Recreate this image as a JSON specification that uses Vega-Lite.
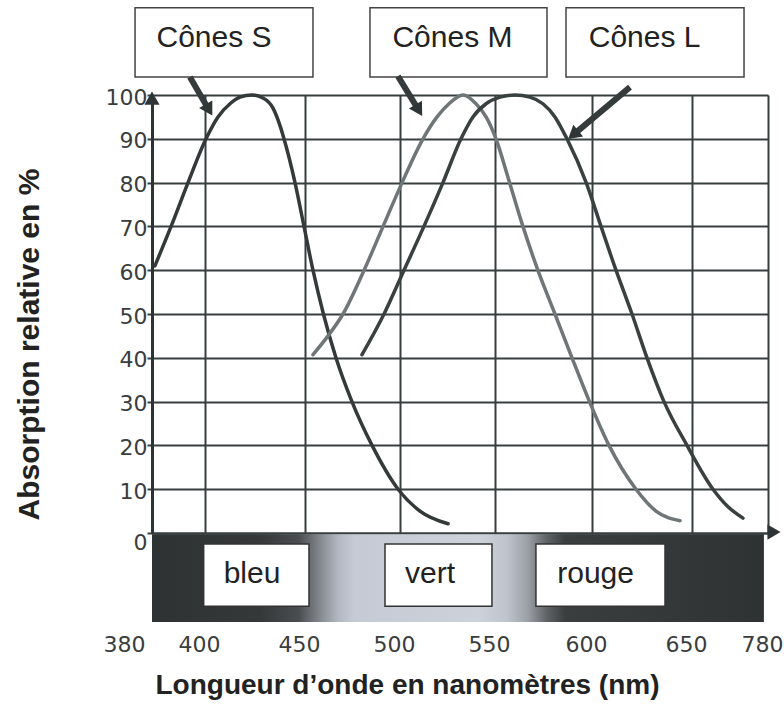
{
  "$schema": "https://vega.github.io/schema/vega-lite/v6.json",
  "width": 616,
  "height": 438,
  "autosize": {"type": "none"},
  "padding": {"left": 152, "top": 95, "right": 16, "bottom": 173},
  "background": "white",
  "config": {
    "view": {"stroke": null},
    "axis": {
      "labelFont": "DejaVu Sans",
      "labelFontSize": 22,
      "labelColor": "#3a3d3d",
      "labelOverlap": false,
      "labelFlush": false,
      "titleFont": "Liberation Sans",
      "titleFontWeight": "bold",
      "titleColor": "#222222",
      "gridColor": "#363e3e",
      "gridWidth": 2,
      "gridOpacity": 1
    }
  },
  "encoding": {
    "x": {
      "field": "nm",
      "type": "quantitative",
      "scale": {
        "domain": [380, 400, 450, 500, 550, 600, 650, 780],
        "range": [0, 53, 153, 248, 343, 440, 540, 616],
        "zero": false,
        "nice": false
      },
      "axis": {
        "values": [380, 400, 450, 500, 550, 600, 650, 780],
        "grid": true,
        "domain": true,
        "domainColor": "#363e3e",
        "domainWidth": 2,
        "ticks": false,
        "labelPadding": 101,
        "labelOffset": {"condition": {"test": "datum.value === 380", "value": -28}, "value": -6},
        "title": "Longueur d’onde en nanomètres (nm)",
        "titleFontSize": 28,
        "titleX": 3,
        "titleY": 160,
        "titleAlign": "left",
        "titleBaseline": "alphabetic"
      }
    },
    "y": {
      "field": "pct",
      "type": "quantitative",
      "scale": {"domain": [0, 100], "nice": false, "zero": false},
      "axis": {
        "values": [0, 10, 20, 30, 40, 50, 60, 70, 80, 90, 100],
        "grid": true,
        "domain": true,
        "domainColor": "#2c3333",
        "domainWidth": 3,
        "ticks": true,
        "tickSize": 5,
        "tickColor": "#363e3e",
        "tickWidth": 2,
        "labelPadding": 0,
        "labelOffset": {"condition": {"test": "datum.value === 0", "value": 9}, "value": 2},
        "title": "Absorption relative en %",
        "titleFontSize": 30,
        "titleAngle": -90,
        "titleX": -114,
        "titleY": 249,
        "titleAlign": "center",
        "titleBaseline": "alphabetic"
      }
    }
  },
  "layer": [
    {
      "data": {"values": [{"nm": 380, "nm2": 773, "pct": -0.3, "pct2": -20.3}]},
      "mark": {
        "type": "rect",
        "color": {
          "gradient": "linear",
          "x1": 0, "x2": 1, "y1": 0, "y2": 0,
          "stops": [
            {"offset": 0, "color": "#2e3232"},
            {"offset": 0.176, "color": "#353838"},
            {"offset": 0.24, "color": "#4a4d50"},
            {"offset": 0.278, "color": "#8a8e94"},
            {"offset": 0.305, "color": "#b4b8c2"},
            {"offset": 0.33, "color": "#c6cad4"},
            {"offset": 0.535, "color": "#cdd1da"},
            {"offset": 0.58, "color": "#bfc3cc"},
            {"offset": 0.615, "color": "#9a9ea4"},
            {"offset": 0.645, "color": "#5f6366"},
            {"offset": 0.675, "color": "#3a3e3e"},
            {"offset": 1, "color": "#2e3232"}
          ]
        }
      },
      "encoding": {"x2": {"field": "nm2"}, "y2": {"field": "pct2"}}
    },
    {
      "data": {"values": [
        {"label": "bleu", "nm": 399.5, "nm2": 452.1, "pct": -2.5, "pct2": -16.7},
        {"label": "vert", "nm": 492.1, "nm2": 548.4, "pct": -2.5, "pct2": -16.7},
        {"label": "rouge", "nm": 571.1, "nm2": 636.5, "pct": -2.5, "pct2": -16.7}
      ]},
      "mark": {"type": "rect", "fill": "white", "stroke": "#333333", "strokeWidth": 1.5},
      "encoding": {"x2": {"field": "nm2"}, "y2": {"field": "pct2"}}
    },
    {
      "data": {"values": [
        {"label": "bleu", "nm": 423.5, "pct": -11.4},
        {"label": "vert", "nm": 515.8, "pct": -11.4},
        {"label": "rouge", "nm": 601.8, "pct": -11.4}
      ]},
      "mark": {"type": "text", "font": "Liberation Sans", "fontSize": 30, "color": "#222222", "baseline": "alphabetic", "align": "center"},
      "encoding": {"text": {"field": "label"}}
    },
    {
      "data": {"values": [
        {"cone": "S", "nm": 381.1, "pct": 61},
        {"cone": "S", "nm": 387.2, "pct": 70},
        {"cone": "S", "nm": 393.6, "pct": 80},
        {"cone": "S", "nm": 400.5, "pct": 90},
        {"cone": "S", "nm": 406.5, "pct": 95},
        {"cone": "S", "nm": 412.5, "pct": 98},
        {"cone": "S", "nm": 417.5, "pct": 99.5},
        {"cone": "S", "nm": 423.5, "pct": 100},
        {"cone": "S", "nm": 429, "pct": 99.3},
        {"cone": "S", "nm": 434, "pct": 97},
        {"cone": "S", "nm": 437.5, "pct": 93},
        {"cone": "S", "nm": 439.5, "pct": 90},
        {"cone": "S", "nm": 445, "pct": 80},
        {"cone": "S", "nm": 449.5, "pct": 70},
        {"cone": "S", "nm": 454.2, "pct": 60},
        {"cone": "S", "nm": 459.7, "pct": 50},
        {"cone": "S", "nm": 466.3, "pct": 40},
        {"cone": "S", "nm": 474.7, "pct": 30},
        {"cone": "S", "nm": 485.3, "pct": 20},
        {"cone": "S", "nm": 499, "pct": 10},
        {"cone": "S", "nm": 510.5, "pct": 5},
        {"cone": "S", "nm": 525.3, "pct": 2.1},
        {"cone": "M", "nm": 454.2, "pct": 40.7},
        {"cone": "M", "nm": 462.1, "pct": 45},
        {"cone": "M", "nm": 470, "pct": 50},
        {"cone": "M", "nm": 481.1, "pct": 60},
        {"cone": "M", "nm": 491.1, "pct": 70},
        {"cone": "M", "nm": 501.1, "pct": 80},
        {"cone": "M", "nm": 512.1, "pct": 90},
        {"cone": "M", "nm": 519.5, "pct": 95},
        {"cone": "M", "nm": 525.8, "pct": 98},
        {"cone": "M", "nm": 533.2, "pct": 100},
        {"cone": "M", "nm": 540, "pct": 98},
        {"cone": "M", "nm": 545.3, "pct": 95},
        {"cone": "M", "nm": 550.5, "pct": 90},
        {"cone": "M", "nm": 557.5, "pct": 80},
        {"cone": "M", "nm": 564.4, "pct": 70},
        {"cone": "M", "nm": 572.1, "pct": 60},
        {"cone": "M", "nm": 580.9, "pct": 50},
        {"cone": "M", "nm": 589.7, "pct": 40},
        {"cone": "M", "nm": 598.7, "pct": 30},
        {"cone": "M", "nm": 608.5, "pct": 20},
        {"cone": "M", "nm": 622, "pct": 10},
        {"cone": "M", "nm": 632, "pct": 5},
        {"cone": "M", "nm": 644, "pct": 2.8},
        {"cone": "L", "nm": 480, "pct": 40.7},
        {"cone": "L", "nm": 491.6, "pct": 50},
        {"cone": "L", "nm": 502.1, "pct": 60},
        {"cone": "L", "nm": 512.6, "pct": 70},
        {"cone": "L", "nm": 522.6, "pct": 80},
        {"cone": "L", "nm": 532.1, "pct": 90},
        {"cone": "L", "nm": 538.4, "pct": 95},
        {"cone": "L", "nm": 545.3, "pct": 98},
        {"cone": "L", "nm": 552.6, "pct": 99.5},
        {"cone": "L", "nm": 560.3, "pct": 100},
        {"cone": "L", "nm": 568, "pct": 99.5},
        {"cone": "L", "nm": 574.7, "pct": 98},
        {"cone": "L", "nm": 580.9, "pct": 95},
        {"cone": "L", "nm": 587.1, "pct": 90},
        {"cone": "L", "nm": 597, "pct": 80},
        {"cone": "L", "nm": 604.5, "pct": 70},
        {"cone": "L", "nm": 612, "pct": 60},
        {"cone": "L", "nm": 620, "pct": 50},
        {"cone": "L", "nm": 627.5, "pct": 40},
        {"cone": "L", "nm": 636, "pct": 30},
        {"cone": "L", "nm": 647.5, "pct": 20},
        {"cone": "L", "nm": 685.9, "pct": 10},
        {"cone": "L", "nm": 711.6, "pct": 6},
        {"cone": "L", "nm": 737.2, "pct": 3.4}
      ]},
      "mark": {"type": "line", "interpolate": "monotone", "strokeWidth": 3.5, "strokeCap": "round"},
      "encoding": {
        "color": {"field": "cone", "type": "nominal", "scale": {"domain": ["S", "M", "L"], "range": ["#343a3a", "#6f7678", "#394040"]}, "legend": null},
        "detail": {"field": "cone"}
      }
    },
    {
      "data": {"values": [
        {"label": "Cônes S", "nm": 373.6, "nm2": 454.2, "pct": 104.1, "pct2": 119.9},
        {"label": "Cônes M", "nm": 484.2, "nm2": 576.8, "pct": 104.1, "pct2": 119.9},
        {"label": "Cônes L", "nm": 586.6, "nm2": 739, "pct": 104.1, "pct2": 119.9}
      ]},
      "mark": {"type": "rect", "fill": "white", "stroke": "#444444", "strokeWidth": 1.5},
      "encoding": {"x2": {"field": "nm2"}, "y2": {"field": "pct2"}}
    },
    {
      "data": {"values": [
        {"label": "Cônes S", "nm": 404.5, "pct": 111},
        {"label": "Cônes M", "nm": 527.6, "pct": 111},
        {"label": "Cônes L", "nm": 626.3, "pct": 111}
      ]},
      "mark": {"type": "text", "font": "Liberation Sans", "fontSize": 30, "color": "#222222", "baseline": "alphabetic", "align": "center"},
      "encoding": {"text": {"field": "label"}}
    },
    {
      "data": {"values": [
        {"arrow": "S", "nm": 394.3, "pct": 104.1, "nm2": 402, "pct2": 96.6},
        {"arrow": "M", "nm": 498.9, "pct": 104.3, "nm2": 509.9, "pct2": 96.5},
        {"arrow": "L", "nm": 619, "pct": 101.8, "nm2": 590.3, "pct2": 90.9}
      ]},
      "mark": {"type": "rule", "color": "#353b3b", "strokeWidth": 6},
      "encoding": {"x2": {"field": "nm2"}, "y2": {"field": "pct2"}}
    },
    {
      "data": {"values": [
        {"arrow": "S", "nm": 402, "pct": 96.6, "ang": 150},
        {"arrow": "M", "nm": 509.9, "pct": 96.5, "ang": 149},
        {"arrow": "L", "nm": 590.3, "pct": 90.9, "ang": 230},
        {"arrow": "yaxis", "nm": 380, "pct": 99.3, "ang": 0},
        {"arrow": "xaxis", "nm": 790.3, "pct": 0.2, "ang": 90}
      ]},
      "mark": {"type": "point", "shape": "triangle-up", "filled": true, "color": "#2f3535", "opacity": 1, "size": 230},
      "encoding": {"angle": {"field": "ang", "type": "quantitative", "scale": null}}
    }
  ]
}
